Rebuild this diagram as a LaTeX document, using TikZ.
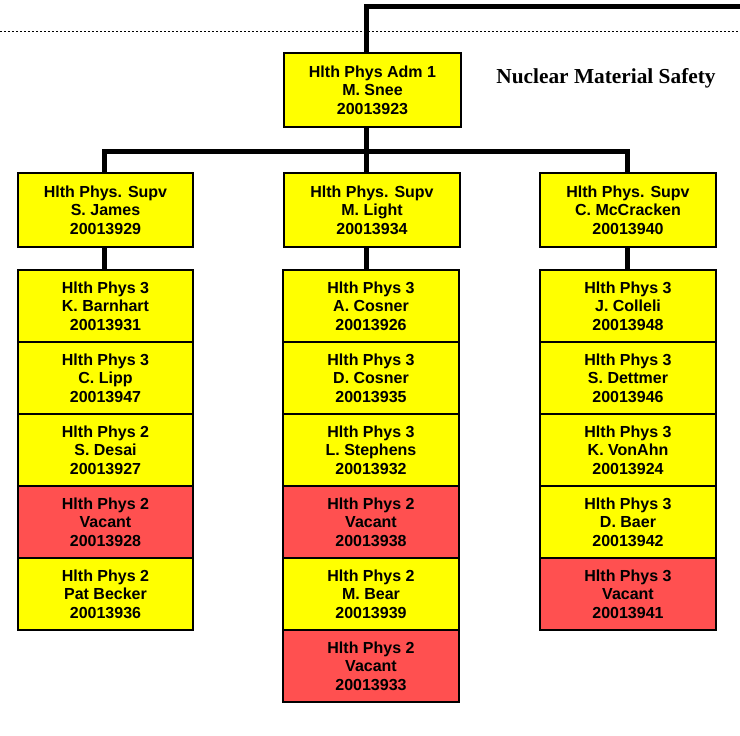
\documentclass[tikz,border=0pt]{standalone}
\usepackage{fontspec}
\setmainfont{Liberation Sans}
\newfontfamily\titlefont{Liberation Serif}
\definecolor{boxyellow}{RGB}{255,255,0}
\definecolor{boxred}{RGB}{255,80,80}
\begin{document}
\begin{tikzpicture}[x=0.75pt,y=-0.75pt,
  posbox/.style={draw=black,line width=1.5pt,fill=boxyellow,rectangle,
    minimum width=131.5pt,minimum height=54pt,inner sep=0pt,align=center,
    font=\fontsize{12}{13.9}\selectfont\bfseries},
  vacbox/.style={posbox,fill=boxred},
  supbox/.style={posbox,minimum height=55.5pt},
  conn/.style={line width=3.75pt,line cap=butt}]
\useasboundingbox (0,0) rectangle (740,736);
% dotted line
\coordinate (dl) at (0,31.5);
\coordinate (dr) at (740,31.5);
\draw[line width=1.4pt,dash pattern=on 1.3pt off 1.7pt] (dl) -- (dr);
% title
\node[font=\titlefont\fontsize{16}{19}\selectfont\bfseries,inner sep=0pt] (title) at (606,78) {Nuclear Material Safety};
% top admin
\node[supbox,minimum width=132.5pt] (adm) at (372.5,90) {Hlth Phys Adm 1\\M. Snee\\20013923};
% supervisors
\node[supbox] (s1) at (105.5,210) {Hlth Phys. Supv\\S. James\\20013929};
\node[supbox,minimum width=132pt] (s2) at (372,210) {Hlth Phys. Supv\\M. Light\\20013934};
\node[supbox,minimum width=132pt] (s3) at (628,210) {Hlth Phys. Supv\\C. McCracken\\20013940};
% left column
\node[posbox] (a1) at (105.5,306) {Hlth Phys 3\\K. Barnhart\\20013931};
\node[posbox] (a2) at (105.5,378) {Hlth Phys 3\\C. Lipp\\20013947};
\node[posbox] (a3) at (105.5,450) {Hlth Phys 2\\S. Desai\\20013927};
\node[vacbox] (a4) at (105.5,522) {Hlth Phys 2\\Vacant\\20013928};
\node[posbox] (a5) at (105.5,594) {Hlth Phys 2\\Pat Becker\\20013936};
% middle column
\node[posbox,minimum width=132pt] (b1) at (371,306) {Hlth Phys 3\\A. Cosner\\20013926};
\node[posbox,minimum width=132pt] (b2) at (371,378) {Hlth Phys 3\\D. Cosner\\20013935};
\node[posbox,minimum width=132pt] (b3) at (371,450) {Hlth Phys 3\\L. Stephens\\20013932};
\node[vacbox,minimum width=132pt] (b4) at (371,522) {Hlth Phys 2\\Vacant\\20013938};
\node[posbox,minimum width=132pt] (b5) at (371,594) {Hlth Phys 2\\M. Bear\\20013939};
\node[vacbox,minimum width=132pt] (b6) at (371,666) {Hlth Phys 2\\Vacant\\20013933};
% right column
\node[posbox,minimum width=132pt] (c1) at (628,306) {Hlth Phys 3\\J. Colleli\\20013948};
\node[posbox,minimum width=132pt] (c2) at (628,378) {Hlth Phys 3\\S. Dettmer\\20013946};
\node[posbox,minimum width=132pt] (c3) at (628,450) {Hlth Phys 3\\K. VonAhn\\20013924};
\node[posbox,minimum width=132pt] (c4) at (628,522) {Hlth Phys 3\\D. Baer\\20013942};
\node[vacbox,minimum width=132pt] (c5) at (628,594) {Hlth Phys 3\\Vacant\\20013941};
% connectors
\coordinate (tr) at (742,6);
\coordinate (trunk) at (366,6);
\coordinate (busl) at (104,151);
\coordinate (busm) at (366,151);
\coordinate (busr) at (627,151);
\draw[conn] (tr) -- (trunk) -- (trunk |- adm.north);
\draw[conn] (trunk |- adm.south) -- (busm);
\draw[conn] (busl |- s1.north) -- (busl) -- (busr) -- (busr |- s3.north);
\draw[conn] (busm) -- (busm |- s2.north);
\draw[conn] (busl |- s1.south) -- (busl |- a1.north);
\draw[conn] (busm |- s2.south) -- (busm |- b1.north);
\draw[conn] (busr |- s3.south) -- (busr |- c1.north);
\end{tikzpicture}
\end{document}
